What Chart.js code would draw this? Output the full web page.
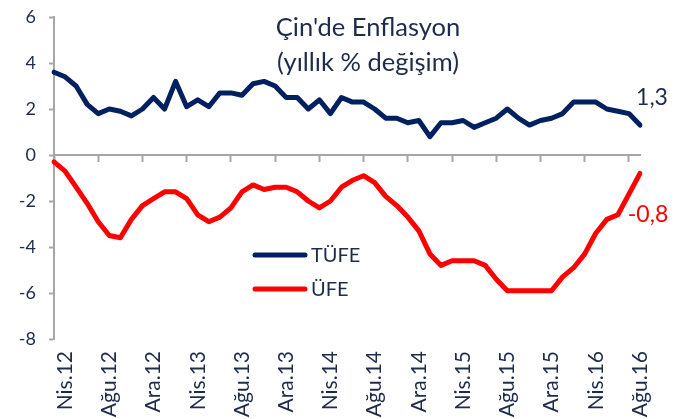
<!DOCTYPE html>
<html>
<head>
<meta charset="utf-8">
<script src="https://cdn.jsdelivr.net/npm/chart.js@4.4.1/dist/chart.umd.min.js"></script>
<style>
html,body{margin:0;padding:0;background:#fff;}
#wrap{width:683px;height:419px;position:relative;}
</style>
</head>
<body>
<div id="wrap"><canvas id="c" width="683" height="419"></canvas></div>
<script>
// Monthly categories, Mar.12 – Ağu.16
const months = [
  "Mar.12","Nis.12","May.12","Haz.12","Tem.12","Ağu.12","Eyl.12","Eki.12","Kas.12","Ara.12",
  "Oca.13","Şub.13","Mar.13","Nis.13","May.13","Haz.13","Tem.13","Ağu.13","Eyl.13","Eki.13","Kas.13","Ara.13",
  "Oca.14","Şub.14","Mar.14","Nis.14","May.14","Haz.14","Tem.14","Ağu.14","Eyl.14","Eki.14","Kas.14","Ara.14",
  "Oca.15","Şub.15","Mar.15","Nis.15","May.15","Haz.15","Tem.15","Ağu.15","Eyl.15","Eki.15","Kas.15","Ara.15",
  "Oca.16","Şub.16","Mar.16","Nis.16","May.16","Haz.16","Tem.16","Ağu.16"
];
// TÜFE (CPI, yoy %)
const tufe = [3.6,3.4,3.0,2.2,1.8,2.0,1.9,1.7,2.0,2.5,
  2.0,3.2,2.1,2.4,2.1,2.7,2.7,2.6,3.1,3.2,3.0,2.5,
  2.5,2.0,2.4,1.8,2.5,2.3,2.3,2.0,1.6,1.6,1.4,1.5,
  0.8,1.4,1.4,1.5,1.2,1.4,1.6,2.0,1.6,1.3,1.5,1.6,
  1.8,2.3,2.3,2.3,2.0,1.9,1.8,1.3];
// ÜFE (PPI, yoy %)
const ufe = [-0.3,-0.7,-1.4,-2.1,-2.9,-3.5,-3.6,-2.8,-2.2,-1.9,
  -1.6,-1.6,-1.9,-2.6,-2.9,-2.7,-2.3,-1.6,-1.3,-1.5,-1.4,-1.4,
  -1.6,-2.0,-2.3,-2.0,-1.4,-1.1,-0.9,-1.2,-1.8,-2.2,-2.7,-3.3,
  -4.3,-4.8,-4.6,-4.6,-4.6,-4.8,-5.4,-5.9,-5.9,-5.9,-5.9,-5.9,
  -5.3,-4.9,-4.3,-3.4,-2.8,-2.6,-1.7,-0.8];
const seriesNames = ["TÜFE","ÜFE"];
const titleLines = ["Çin'de Enflasyon","(yıllık % değişim)"];
const lastLabels = ["1,3","-0,8"];
const yTicks = {min:-8, max:6, step:2};

const NAVY = '#002060';
const RED = '#ff0000';
const TXT = '#1e2b4a';
const AXIS = '#a6a6a6';
const FONT = 'Lato, "Open Sans", sans-serif';

const overlay = {
  id: 'overlay',
  afterDatasetsDraw(chart) {
    const ctx = chart.ctx;
    ctx.save();
    // title
    ctx.fillStyle = TXT;
    ctx.font = '25.5px ' + FONT;
    ctx.textAlign = 'center';
    ctx.textBaseline = 'middle';
    ctx.fillText(titleLines[0], 368, 28);
    ctx.fillText(titleLines[1], 368, 63);
    // legend
    const ds = chart.data.datasets;
    const ly = [255, 289];
    ds.forEach((d, i) => {
      ctx.strokeStyle = d.borderColor;
      ctx.lineWidth = 5;
      ctx.lineCap = 'round';
      ctx.beginPath();
      ctx.moveTo(255, ly[i]);
      ctx.lineTo(305, ly[i]);
      ctx.stroke();
      ctx.fillStyle = TXT;
      ctx.font = '20px ' + FONT;
      ctx.textAlign = 'left';
      ctx.fillText(d.label, 311, ly[i] + 1);
    });
    // end labels
    const offs = [[12, -28], [8, 41]];
    const cols = [TXT, RED];
    ds.forEach((d, i) => {
      const meta = chart.getDatasetMeta(i);
      const p = meta.data[meta.data.length - 1];
      ctx.fillStyle = cols[i];
      ctx.font = '23px ' + FONT;
      ctx.textAlign = 'center';
      ctx.fillText(lastLabels[i], p.x + offs[i][0], p.y + offs[i][1]);
    });
    ctx.restore();
  }
};

new Chart(document.getElementById('c'), {
  type: 'line',
  data: {
    labels: months,
    datasets: [
      {label: seriesNames[0], data: tufe, borderColor: NAVY, backgroundColor: NAVY, borderWidth: 5},
      {label: seriesNames[1], data: ufe, borderColor: RED, backgroundColor: RED, borderWidth: 5}
    ]
  },
  options: {
    responsive: false,
    animation: false,
    devicePixelRatio: 1,
    layout: {padding: {top: 17, right: 43, left: 0, bottom: 0}},
    elements: {
      point: {radius: 0, hoverRadius: 0},
      line: {tension: 0, borderJoinStyle: 'round', borderCapStyle: 'round'}
    },
    plugins: {legend: {display: false}, tooltip: {enabled: false}, title: {display: false}},
    scales: {
      x: {
        type: 'category',
        offset: false,
        position: 'bottom',
        border: {display: false},
        grid: {display: false, drawTicks: false},
        afterFit(s) { s.height = 80; s.paddingLeft = 0; s.paddingRight = 0; },
        ticks: {
          autoSkip: false,
          maxRotation: 90,
          minRotation: 90,
          padding: 12,
          color: TXT,
          font: {family: FONT, size: 21},
          callback(v, i) { return i % 4 === 1 ? months[i] : ''; }
        }
      },
      x2: {
        type: 'category',
        offset: false,
        position: {y: 0},
        border: {display: true, color: AXIS, width: 2},
        grid: {
          display: true,
          drawOnChartArea: false,
          drawTicks: true,
          tickLength: 6,
          tickWidth: 2,
          tickColor: (c) => (c.index % 4 === 0 ? AXIS : 'rgba(0,0,0,0)'),
          color: 'rgba(0,0,0,0)'
        },
        ticks: {display: false, autoSkip: false}
      },
      y: {
        min: yTicks.min,
        max: yTicks.max,
        afterFit(s) { s.width = 54; s.paddingTop = 0; s.paddingBottom = 0; },
        border: {display: true, color: AXIS, width: 2},
        grid: {display: true, drawOnChartArea: false, drawTicks: true, tickLength: 5, tickWidth: 2, tickColor: AXIS, color: AXIS},
        ticks: {
          stepSize: yTicks.step,
          padding: 13,
          color: TXT,
          font: {family: FONT, size: 18}
        }
      }
    }
  },
  plugins: [overlay]
});
</script>
</body>
</html>
